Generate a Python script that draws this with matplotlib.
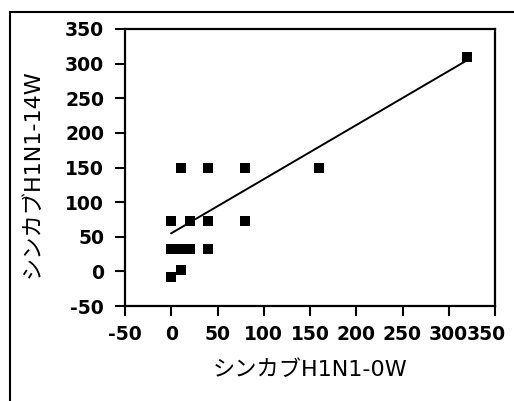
import matplotlib
matplotlib.use("Agg")
import matplotlib.pyplot as plt
import matplotlib.transforms as mtransforms
from matplotlib.lines import Line2D

plt.rcParams['font.family'] = ['DejaVu Sans', 'Noto Sans CJK JP']
plt.rcParams['font.weight'] = 'bold'

# Data
x_values = [320, 10, 40, 80, 160, 0, 20, 40, 80, 0, 10, 20, 40, 10, 0]
y_values = [310, 150, 150, 150, 150, 73, 73, 73, 73, 33, 33, 33, 33, 2, -8]
trend_x = [0, 320]
trend_y = [55, 305]
x_ticks = [-50, 0, 50, 100, 150, 200, 250, 300, 350]
y_ticks = [-50, 0, 50, 100, 150, 200, 250, 300, 350]
x_label = "シンカブH1N1-0W"
y_label = "シンカブH1N1-14W"

fig = plt.figure(figsize=(5.14, 4.01), dpi=100)
ax = fig.add_axes([125/514, 1-306/401, 370/514, 277/401])

ax.plot(trend_x, trend_y, color='black', lw=1.4, zorder=2)
ax.scatter(x_values, y_values, marker='s', s=45, color='black', zorder=3, linewidths=0)

ax.set_xlim(-50, 350)
ax.set_ylim(-50, 350)
ax.set_xticks(x_ticks)
ax.set_yticks(y_ticks)
ax.set_xticklabels([str(t) for t in x_ticks])
ax.set_yticklabels([str(t) for t in y_ticks])
ax.tick_params(axis='x', direction='out', length=7, width=1.5, colors='black', pad=6.5, labelsize=13.5)
ax.tick_params(axis='y', direction='out', length=7, width=1.5, colors='black', pad=8, labelsize=13.5)

for s in ax.spines.values():
    s.set_linewidth(1.6)
    s.set_color('black')

# shift last x tick label left, as in the reference
fig.canvas.draw()
lbls = ax.get_xticklabels()
off = mtransforms.ScaledTranslation(-9/100, 0, fig.dpi_scale_trans)
lbls[-1].set_transform(lbls[-1].get_transform() + off)

ax.set_xlabel(x_label, fontsize=16, fontweight='normal', va='center')
ax.set_ylabel(y_label, fontsize=16, fontweight='normal', va='center')
ax.xaxis.set_label_coords(0.5, (306-370)/277)
ax.yaxis.set_label_coords((33-125)/370, (306-174)/277)

# outer frame (left and top edges)
fig.add_artist(Line2D([10/514, 10/514], [0, 1-12/401], transform=fig.transFigure, color='black', lw=1.5))
fig.add_artist(Line2D([10/514, 1], [1-12/401, 1-12/401], transform=fig.transFigure, color='black', lw=1.5))

fig.savefig("out.png", dpi=100)
